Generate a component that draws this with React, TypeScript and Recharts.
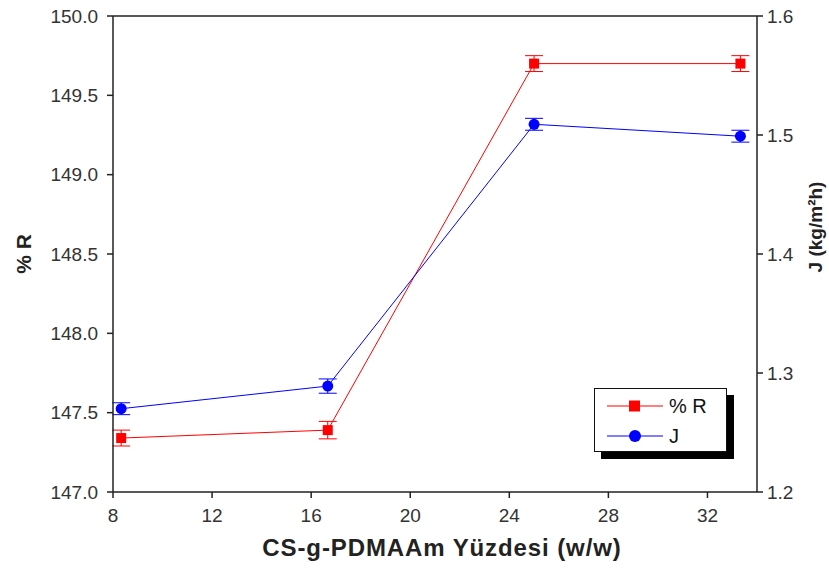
import { ComposedChart, Line, XAxis, YAxis, ErrorBar, ReferenceLine, Legend, Label } from "recharts";

const percents = [8.33, 16.67, 25, 33.33];
const rValues = [147.34, 147.39, 149.7, 149.7];
const rErrors = [0.05, 0.055, 0.05, 0.05];
const jValues = [1.27, 1.289, 1.509, 1.499];
const jErrors = [0.005, 0.006, 0.005, 0.005];

const xTicks = [8, 12, 16, 20, 24, 28, 32];
const rTicks = [147, 147.5, 148, 148.5, 149, 149.5, 150];
const jTicks = [1.2, 1.3, 1.4, 1.5, 1.6];

const RED = "#ff0000";
const BLUE = "#0000ff";
const AXIS = "#222";
const FONT = "'Liberation Sans', Arial, sans-serif";

const chartData = percents.map((p, i) => ({
  pct: p,
  r: rValues[i],
  rErr: rErrors[i],
  j: jValues[i],
  jErr: jErrors[i],
}));

const tickStyle = { fontSize: 19, fill: "#333", fontFamily: FONT };

const SquareDot = (p: any) => (
  <rect key={`sq-${p.index}`} x={p.cx - 5} y={p.cy - 5} width={10} height={10} fill={RED} />
);

const RoundDot = (p: any) => <circle key={`ci-${p.index}`} cx={p.cx} cy={p.cy} r={5.5} fill={BLUE} />;

const LegendBox = () => {
  const rows = [
    { name: "% R", color: RED, square: true },
    { name: "J", color: BLUE, square: false },
  ];
  return (
    <div
      style={{
        width: 131,
        height: 62,
        border: "1.5px solid #111",
        boxShadow: "7px 7px 0 #000",
        background: "#fff",
        fontFamily: FONT,
        fontSize: 20,
        color: "#111",
        boxSizing: "content-box",
      }}
    >
      {rows.map((row) => (
        <div key={row.name} style={{ display: "flex", alignItems: "center", height: 30, marginTop: row.square ? 2 : 0 }}>
          <svg width={72} height={20} style={{ marginLeft: 10 }}>
            <line x1={2} y1={10} x2={58} y2={10} stroke={row.color} strokeWidth={1} />
            {row.square ? (
              <rect x={24} y={4.5} width={11} height={11} fill={row.color} />
            ) : (
              <circle cx={30} cy={10} r={6} fill={row.color} />
            )}
          </svg>
          <span style={{ marginLeft: -8 }}>{row.name}</span>
        </div>
      ))}
    </div>
  );
};

export default function App() {
  return (
    <div style={{ position: "absolute", left: 0, top: 0, width: 829, height: 572, background: "#fff", overflow: "hidden" }}>
      <ComposedChart width={829} height={572} data={chartData} margin={{ top: 16, right: 12, bottom: 10, left: 33 }}>
        <XAxis
          dataKey="pct"
          type="number"
          domain={[8, 34]}
          ticks={xTicks}
          allowDataOverflow
          stroke={AXIS}
          strokeWidth={1.5}
          tickSize={6}
          tickMargin={11}
          tick={tickStyle}
          height={70}
          label={
            <Label
              content={({ viewBox }: any) => (
                <text
                  x={viewBox.x + viewBox.width / 2 + 7}
                  y={viewBox.y + 64}
                  textAnchor="middle"
                  fontFamily={FONT}
                  fontSize={24}
                  fontWeight="bold"
                  letterSpacing={0.9}
                  fill="#222"
                >
                  CS-g-PDMAAm Yüzdesi (w/w)
                </text>
              )}
            />
          }
        />
        <YAxis
          yAxisId="left"
          domain={[147, 150]}
          ticks={rTicks}
          tickFormatter={(v: number) => v.toFixed(1)}
          stroke={AXIS}
          strokeWidth={1.5}
          tickSize={6}
          tickMargin={9}
          tick={tickStyle}
          width={80}
          label={
            <Label
              content={({ viewBox }: any) => {
                const cy = viewBox.y + viewBox.height / 2;
                return (
                  <text
                    x={31}
                    y={cy}
                    transform={`rotate(-90, 31, ${cy})`}
                    textAnchor="middle"
                    fontFamily={FONT}
                    fontSize={21}
                    fontWeight="bold"
                    fill="#222"
                  >
                    % R
                  </text>
                );
              }}
            />
          }
        />
        <YAxis
          yAxisId="right"
          orientation="right"
          domain={[1.2, 1.6]}
          ticks={jTicks}
          tickFormatter={(v: number) => v.toFixed(1)}
          stroke={AXIS}
          strokeWidth={1.5}
          tickSize={6}
          tickMargin={4}
          tick={tickStyle}
          width={60}
          label={
            <Label
              content={() => (
                <text
                  x={822}
                  y={227}
                  transform="rotate(-90, 822, 227)"
                  textAnchor="middle"
                  fontFamily={FONT}
                  fontSize={19}
                  fontWeight="bold"
                  fill="#222"
                >
                  J (kg/m²h)
                </text>
              )}
            />
          }
        />
        <ReferenceLine yAxisId="left" y={150} stroke={AXIS} strokeWidth={1.5} />
        <Line
          yAxisId="left"
          dataKey="r"
          name="% R"
          type="linear"
          stroke={RED}
          strokeWidth={1}
          dot={SquareDot}
          activeDot={false}
          isAnimationActive={false}
        >
          <ErrorBar dataKey="rErr" width={9} stroke={RED} strokeWidth={1} direction="y" isAnimationActive={false} />
        </Line>
        <Line
          yAxisId="right"
          dataKey="j"
          name="J"
          type="linear"
          stroke={BLUE}
          strokeWidth={1}
          dot={RoundDot}
          activeDot={false}
          isAnimationActive={false}
        >
          <ErrorBar dataKey="jErr" width={9} stroke={BLUE} strokeWidth={1} direction="y" isAnimationActive={false} />
        </Line>
        <Legend
          layout="vertical"
          align="center"
          verticalAlign="middle"
          content={LegendBox}
          wrapperStyle={{ left: 594, top: 388, width: 134, height: 65 }}
        />
      </ComposedChart>
    </div>
  );
}
